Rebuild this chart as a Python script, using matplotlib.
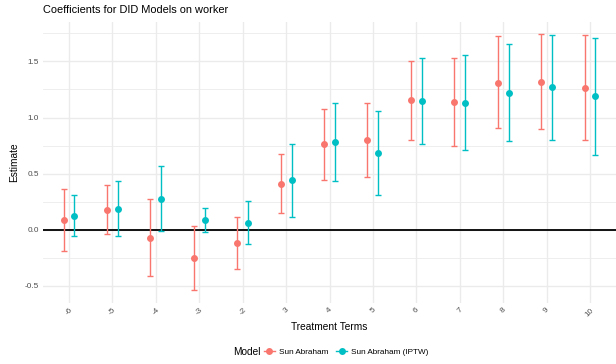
import numpy as np
import matplotlib
matplotlib.use("Agg")
import matplotlib.pyplot as plt
from matplotlib.lines import Line2D

plt.rcParams["font.family"] = ["Liberation Sans", "DejaVu Sans"]

terms = ["-6", "-5", "-4", "-3", "-2", "3", "4", "5", "6", "7", "8", "9", "10"]

sa_est = [0.088, 0.180, -0.071, -0.250, -0.118, 0.410, 0.761, 0.800, 1.157, 1.139, 1.312, 1.319, 1.265]
sa_lo = [-0.190, -0.038, -0.416, -0.534, -0.348, 0.147, 0.445, 0.472, 0.803, 0.746, 0.903, 0.897, 0.803]
sa_hi = [0.365, 0.395, 0.274, 0.030, 0.112, 0.679, 1.080, 1.127, 1.507, 1.534, 1.723, 1.740, 1.732]

ip_est = [0.127, 0.189, 0.277, 0.083, 0.062, 0.440, 0.782, 0.684, 1.148, 1.133, 1.221, 1.268, 1.189]
ip_lo = [-0.056, -0.059, -0.012, -0.020, -0.124, 0.112, 0.434, 0.310, 0.764, 0.711, 0.794, 0.803, 0.670]
ip_hi = [0.307, 0.437, 0.566, 0.190, 0.254, 0.764, 1.133, 1.062, 1.531, 1.555, 1.652, 1.737, 1.705]

RED = "#F8766D"
CYAN = "#00BFC4"

fig = plt.figure(figsize=(6.16, 3.64), dpi=100)
ax = fig.add_axes([43 / 616, 1 - 302.5 / 364, 573 / 616, (302.5 - 21.7) / 364])

x = np.arange(1, len(terms) + 1)
dodge = 0.125
for xs, est, lo, hi, col in [(x - dodge, sa_est, sa_lo, sa_hi, RED),
                             (x + dodge, ip_est, ip_lo, ip_hi, CYAN)]:
    est = np.array(est); lo = np.array(lo); hi = np.array(hi)
    ax.errorbar(xs, est, yerr=[est - lo, hi - est], fmt="none", ecolor=col,
                elinewidth=1.0, capsize=2.0, capthick=1.0, zorder=3)
    ax.plot(xs, est, "o", color=col, ms=5, mec="none", zorder=4)

ax.axhline(0, color="black", lw=1.3, zorder=2)

allv = sa_lo + sa_hi + ip_lo + ip_hi
lo_v, hi_v = min(allv), max(allv)
pad = (hi_v - lo_v) * 0.05
ax.set_ylim(lo_v - pad, hi_v + pad)
ax.set_xlim(0.4, len(terms) + 0.6)

ax.set_xticks(x)
ax.set_xticklabels(terms, rotation=45, ha="center", va="top")
ax.set_yticks([-0.5, 0.0, 0.5, 1.0, 1.5])
ax.set_yticklabels(["-0.5", "0.0", "0.5", "1.0", "1.5"])
ax.set_yticks([-0.25, 0.25, 0.75, 1.25, 1.75], minor=True)

ax.grid(True, which="major", color="#EBEBEB", lw=1.0, zorder=0)
ax.grid(True, which="minor", axis="y", color="#EBEBEB", lw=0.6, zorder=0)
ax.set_axisbelow(True)
for s in ax.spines.values():
    s.set_visible(False)
ax.tick_params(which="both", length=0, labelsize=5.9, labelcolor="#4D4D4D", pad=3)

ax.set_xlabel("Treatment Terms", fontsize=7.3, labelpad=3)
ax.set_ylabel("Estimate", fontsize=7.3, labelpad=4)
ax.set_title("Coefficients for DID Models on worker", fontsize=7.9, loc="left", pad=6)

fig.text(233 / 616, 1 - 352 / 364, "Model", fontsize=7.3, va="center", ha="left")
handles = [Line2D([], [], color=RED, marker="o", ms=5, mec="none", lw=1.0),
           Line2D([], [], color=CYAN, marker="o", ms=5, mec="none", lw=1.0)]
fig.legend(handles, ["Sun Abraham", "Sun Abraham (IPTW)"], loc="center left",
           bbox_to_anchor=(264 / 616, 1 - 352 / 364), ncol=2, frameon=False,
           fontsize=5.9, handlelength=1.3, handletextpad=0.5, columnspacing=1.0,
           borderpad=0, borderaxespad=0)

fig.savefig("out.png", dpi=100)
